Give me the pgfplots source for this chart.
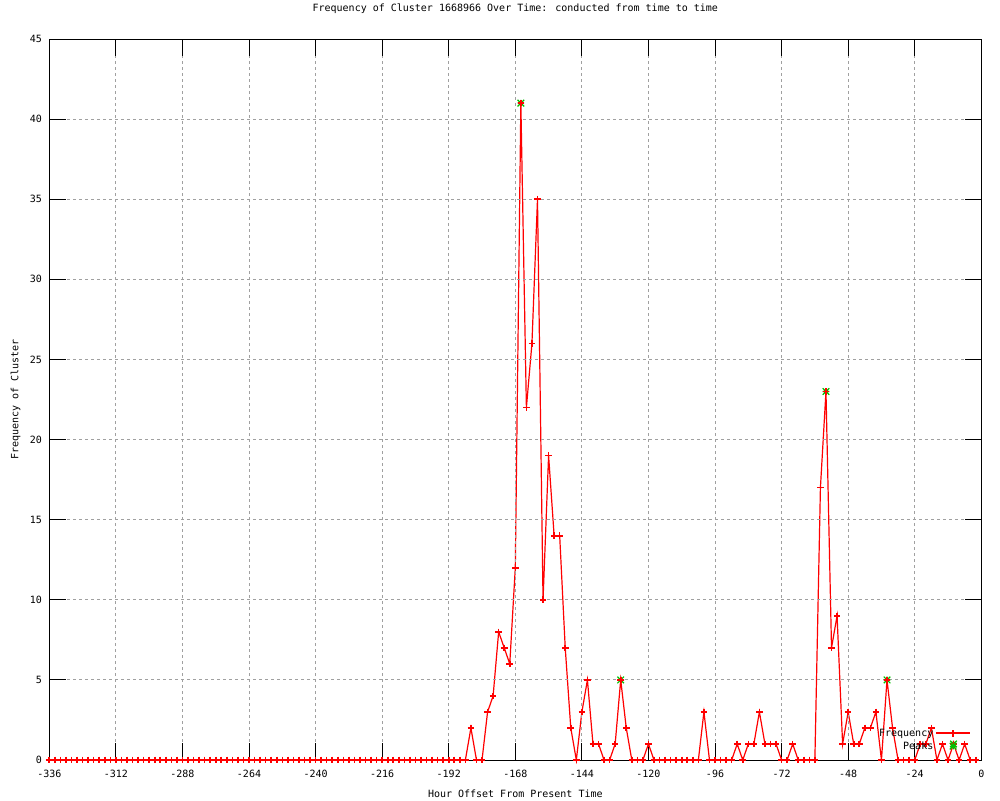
\documentclass[border=0pt]{standalone}
\usepackage{fontspec}
\setmainfont{DejaVu Sans Mono}
\usepackage{pgfplots}
\usepackage{pgfplotstable}
\pgfplotsset{compat=1.18}
\definecolor{gridgray}{RGB}{160,160,160}
\definecolor{peakgreen}{RGB}{0,192,0}
\definecolor{gnured}{RGB}{255,0,0}
\pgfdeclareplotmark{plusx}{%
  \pgfpathmoveto{\pgfqpoint{-\pgfplotmarksize}{0pt}}%
  \pgfpathlineto{\pgfqpoint{\pgfplotmarksize}{0pt}}%
  \pgfpathmoveto{\pgfqpoint{0pt}{-\pgfplotmarksize}}%
  \pgfpathlineto{\pgfqpoint{0pt}{\pgfplotmarksize}}%
  \pgfpathmoveto{\pgfqpoint{-\pgfplotmarksize}{-\pgfplotmarksize}}%
  \pgfpathlineto{\pgfqpoint{\pgfplotmarksize}{\pgfplotmarksize}}%
  \pgfpathmoveto{\pgfqpoint{-\pgfplotmarksize}{\pgfplotmarksize}}%
  \pgfpathlineto{\pgfqpoint{\pgfplotmarksize}{-\pgfplotmarksize}}%
  \pgfusepathqstroke}
\pgfplotstableread{
h f
-336 0
-334 0
-332 0
-330 0
-328 0
-326 0
-324 0
-322 0
-320 0
-318 0
-316 0
-314 0
-312 0
-310 0
-308 0
-306 0
-304 0
-302 0
-300 0
-298 0
-296 0
-294 0
-292 0
-290 0
-288 0
-286 0
-284 0
-282 0
-280 0
-278 0
-276 0
-274 0
-272 0
-270 0
-268 0
-266 0
-264 0
-262 0
-260 0
-258 0
-256 0
-254 0
-252 0
-250 0
-248 0
-246 0
-244 0
-242 0
-240 0
-238 0
-236 0
-234 0
-232 0
-230 0
-228 0
-226 0
-224 0
-222 0
-220 0
-218 0
-216 0
-214 0
-212 0
-210 0
-208 0
-206 0
-204 0
-202 0
-200 0
-198 0
-196 0
-194 0
-192 0
-190 0
-188 0
-186 0
-184 2
-182 0
-180 0
-178 3
-176 4
-174 8
-172 7
-170 6
-168 12
-166 41
-164 22
-162 26
-160 35
-158 10
-156 19
-154 14
-152 14
-150 7
-148 2
-146 0
-144 3
-142 5
-140 1
-138 1
-136 0
-134 0
-132 1
-130 5
-128 2
-126 0
-124 0
-122 0
-120 1
-118 0
-116 0
-114 0
-112 0
-110 0
-108 0
-106 0
-104 0
-102 0
-100 3
-98 0
-96 0
-94 0
-92 0
-90 0
-88 1
-86 0
-84 1
-82 1
-80 3
-78 1
-76 1
-74 1
-72 0
-70 0
-68 1
-66 0
-64 0
-62 0
-60 0
-58 17
-56 23
-54 7
-52 9
-50 1
-48 3
-46 1
-44 1
-42 2
-40 2
-38 3
-36 0
-34 5
-32 2
-30 0
-28 0
-26 0
-24 0
-22 1
-20 1
-18 2
-16 0
-14 1
-12 0
-10 1
-8 0
-6 1
-4 0
-2 0
}\freqtable
\pgfplotstableread{
h f
-166 41
-130 5
-56 23
-34 5
-10 1
}\peaktable
\begin{document}
\fontsize{5pt}{6pt}\selectfont
\begin{tikzpicture}[font=\fontsize{5pt}{6pt}\selectfont]
\path[use as bounding box] (-24.65pt,-20pt) rectangle (475.35pt,380pt);
\begin{axis}[
  at={(0pt,0pt)}, anchor=south west,
  scale only axis, width=466pt, height=360.5pt,
  axis on top=true,
  clip=false,
  xmin=-336, xmax=0, ymin=0, ymax=45,
  xtick={-336,-312,-288,-264,-240,-216,-192,-168,-144,-120,-96,-72,-48,-24,0},
  xticklabels={-336,-312,-288,-264,-240,-216,-192,-168,-144,-120,-96,-72,-48,-24,0},
  ytick={0,5,10,15,20,25,30,35,40,45},
  /pgf/number format/assume math mode=true,
  xtick pos=both, ytick pos=both,
  tick align=inside,
  major tick length=8.3pt,
  tick style={black, line width=0.5pt},
  axis line style={black, line width=0.5pt},
  xmajorgrids, ymajorgrids,
  major grid style={gridgray, line width=0.5pt, dash pattern=on 1.5pt off 1.5pt},
  xticklabel style={anchor=base, yshift=-8.85pt, inner sep=0pt},
  yticklabel style={anchor=east, xshift=-3.5pt, inner sep=0pt},
  title={Frequency of Cluster 1668966 Over Time: conducted from time to time},
  title style={at={(axis description cs:0.5,1.02178)}, anchor=base, inner sep=0pt},
  xlabel={Hour Offset From Present Time},
  xlabel style={at={(axis description cs:0.5,-0.05132)}, anchor=base, inner sep=0pt},
  ylabel={Frequency of Cluster},
  ylabel style={at={(axis description cs:-0.03326,0.5)}, anchor=base, inner sep=0pt},
  legend plot pos=right,
  legend cell align=right,
  legend style={at={(axis description cs:1,0)}, anchor=south east, xshift=-5pt, yshift=3.45pt,
    draw=none, fill=none, inner sep=0pt, row sep=0pt,
    nodes={inner sep=1pt, text depth=0.15em}},
]
\addplot[forget plot, only marks, mark=plusx, mark size=1.65pt, color=peakgreen,
  mark options={draw=peakgreen, line width=0.6pt, solid}]
  table[x=h, y=f] {\peaktable};
\addplot[forget plot, gnured, line width=0.6pt, no marks] table[x=h, y=f] {\freqtable};
\addplot[forget plot, only marks, mark=+, mark size=1.65pt, color=gnured,
  mark options={draw=gnured, line width=0.8pt, solid}]
  table[x=h, y=f] {\freqtable};
\addlegendimage{legend image code/.code={
  \draw[gnured, line width=0.8pt] (0pt,0pt) -- (17pt,0pt);
  \draw[gnured, line width=0.8pt] (8.5pt,-1.65pt) -- (8.5pt,1.65pt);}}
\addlegendentry{Frequency}
\addlegendimage{only marks, mark=plusx, mark size=1.65pt, color=peakgreen,
  mark options={draw=peakgreen, line width=0.6pt, solid}}
\addlegendentry{Peaks}
\end{axis}
\end{tikzpicture}
\end{document}
